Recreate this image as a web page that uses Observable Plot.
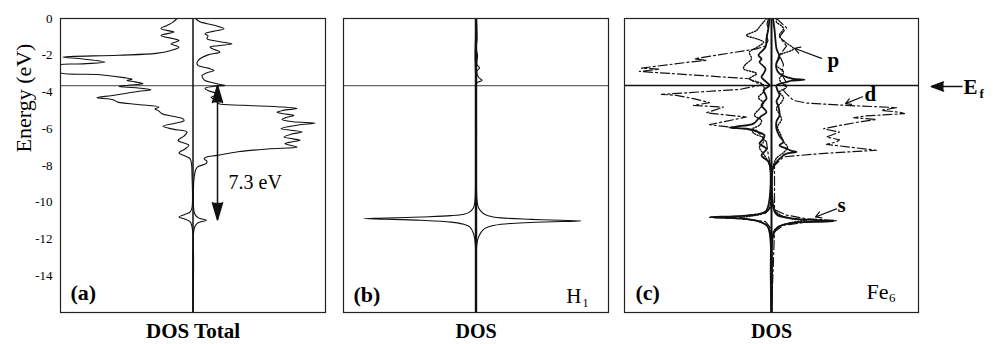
<!DOCTYPE html>
<html><head><meta charset="utf-8">
<script src="https://cdn.jsdelivr.net/npm/d3@7"></script>
<script src="https://cdn.jsdelivr.net/npm/@observablehq/plot@0.6"></script>
<style>
body{margin:0;background:#fff;}
#fig{position:relative;width:996px;height:344px;background:#fff;}
#fig svg{position:absolute;top:0;}
</style></head><body><div id="fig"></div>
<script>
// ---- data: [energy (eV), DOS (arb. units)] ----
const energyTicks = [0,-2,-4,-6,-8,-10,-12,-14];
const fermiLevel = [-3.65];
const totalUp = [[0,-1.6],[-0.2,-2.0],[-0.38,-2.6],[-0.56,-3.2],[-0.74,-1.9],[-0.92,-3.2],[-1.2,-1.4],[-1.38,-2.2],[-1.56,-1.4],[-1.74,-2.2],[-1.9,-3.7],[-2.0,-7.5],[-2.1,-13.0],[-2.2,-11.0],[-2.37,-8.8],[-2.47,-11.0],[-2.57,-13.6],[-2.9,-13.6],[-3.05,-9.5],[-3.22,-6.9],[-3.3,-6.1],[-3.37,-6.6],[-3.45,-5.8],[-3.55,-5.0],[-3.63,-6.5],[-3.7,-7.4],[-3.78,-5.5],[-3.88,-4.2],[-3.97,-5.5],[-4.08,-6.8],[-4.2,-8.2],[-4.31,-9.6],[-4.42,-8.0],[-4.55,-7.5],[-4.68,-5.5],[-4.82,-3.4],[-4.92,-3.8],[-5.0,-3.5],[-5.18,-3.1],[-5.32,-2.0],[-5.46,-1.0],[-5.56,-0.9],[-5.7,-1.8],[-5.87,-3.0],[-6.02,-2.0],[-6.18,-0.6],[-6.4,-0.9],[-6.63,-1.5],[-6.78,-0.9],[-6.9,-0.4],[-7.1,-0.8],[-7.32,-1.4],[-7.48,-0.8],[-7.63,-0.3],[-7.9,-0.15],[-8.5,-0.1],[-10.3,-0.1],[-10.52,-0.27],[-10.65,-0.77],[-10.8,-1.4],[-10.92,-0.77],[-11.07,-0.27],[-11.5,-0.05],[-16,0]];
const totalDown = [[0,0.25],[-0.18,0.7],[-0.35,2.0],[-0.56,3.1],[-0.7,2.0],[-0.83,1.2],[-0.95,1.5],[-1.1,1.4],[-1.25,2.6],[-1.38,3.9],[-1.48,2.5],[-1.56,1.7],[-1.7,2.2],[-1.83,2.7],[-1.98,1.5],[-2.19,0.7],[-2.4,0.4],[-2.55,0.5],[-2.7,1.5],[-2.83,2.1],[-2.95,1.4],[-3.1,0.9],[-3.25,1.0],[-3.37,1.2],[-3.5,2.0],[-3.58,2.6],[-3.64,3.2],[-3.7,2.0],[-3.8,1.2],[-3.95,1.6],[-4.05,2.2],[-4.18,2.2],[-4.3,1.8],[-4.4,2.2],[-4.55,2.4],[-4.64,2.6],[-4.72,5.0],[-4.82,9.0],[-4.9,10.4],[-5.0,9.0],[-5.1,8.4],[-5.18,9.0],[-5.28,10.1],[-5.36,9.5],[-5.5,8.9],[-5.62,10.0],[-5.69,12.2],[-5.8,10.5],[-5.99,8.8],[-6.08,9.8],[-6.18,10.9],[-6.3,9.8],[-6.45,9.1],[-6.55,10.0],[-6.63,10.7],[-6.72,9.8],[-6.81,9.2],[-6.9,9.7],[-7.0,10.4],[-7.1,7.5],[-7.25,4.5],[-7.45,2.4],[-7.55,1.3],[-7.63,1.1],[-7.78,1.4],[-7.9,1.3],[-8.1,0.4],[-8.5,0.15],[-10.5,0.1],[-10.7,0.25],[-10.85,0.55],[-10.98,1.35],[-11.1,0.55],[-11.3,0.2],[-11.7,0.05],[-16,0]];
const hUp = [[0,-0.05],[-1,-0.05],[-2,-0.1],[-3,-0.05],[-4,-0.05],[-6,-0.05],[-8,-0.05],[-9.9,-0.1],[-10.3,-0.25],[-10.55,-0.7],[-10.65,-1.2],[-10.73,-2.5],[-10.8,-5.5],[-10.86,-9.0],[-10.89,-11.2],[-10.92,-9.0],[-10.98,-5.5],[-11.08,-2.5],[-11.2,-1.2],[-11.35,-0.6],[-11.7,-0.25],[-12.2,-0.08],[-16,0]];
const hDown = [[0,0.05],[-1.2,0.1],[-1.6,0.0],[-2.0,0.15],[-2.5,0.1],[-2.7,0.35],[-2.85,0.1],[-3.2,0.25],[-3.37,0.6],[-3.5,0.1],[-4,0.05],[-6,0.05],[-9.9,0.1],[-10.3,0.25],[-10.6,0.7],[-10.73,1.2],[-10.85,2.5],[-10.93,5.5],[-10.98,8.5],[-11.02,10.5],[-11.05,8.5],[-11.1,5.5],[-11.2,2.5],[-11.35,1.2],[-11.5,0.7],[-11.9,0.25],[-12.3,0.08],[-16,0]];
const sUp = [[0,-0.2],[-0.5,-0.3],[-1.1,-0.5],[-1.56,-0.6],[-2.0,-1.3],[-2.2,-1.0],[-2.37,-1.2],[-2.73,-0.6],[-3.0,-0.8],[-3.19,-1.0],[-3.46,-0.5],[-3.64,-0.2],[-3.91,-0.8],[-4.15,-0.6],[-4.36,-0.5],[-4.55,-0.8],[-4.73,-1.0],[-5.1,-0.5],[-5.3,-1.0],[-5.45,-1.3],[-5.72,-1.8],[-5.88,-3.5],[-5.94,-4.2],[-6.0,-2.5],[-6.09,-1.8],[-6.36,-0.7],[-6.6,-0.9],[-6.81,-1.2],[-7.1,-0.5],[-7.45,-1.0],[-7.8,-0.3],[-8.2,-0.1],[-10.45,-0.5],[-10.63,-1.2],[-10.73,-2.5],[-10.77,-3.8],[-10.81,-6.1],[-10.86,-3.8],[-10.92,-2.5],[-11.05,-1.2],[-11.3,-0.4],[-11.8,-0.15],[-16,0]];
const sDown = [[0,0.15],[-0.6,0.3],[-1.2,0.4],[-1.65,0.5],[-2.1,0.8],[-2.4,0.5],[-2.73,0.5],[-3.0,0.8],[-3.2,1.6],[-3.28,2.2],[-3.33,3.3],[-3.38,2.0],[-3.46,1.5],[-3.64,0.5],[-3.9,0.6],[-4.18,0.8],[-4.5,0.5],[-4.8,0.7],[-5.27,0.8],[-5.6,0.5],[-6.0,0.5],[-6.4,0.8],[-6.72,1.2],[-6.9,0.8],[-7.08,1.5],[-7.2,2.0],[-7.26,2.5],[-7.35,1.5],[-7.45,1.2],[-7.8,0.5],[-8.2,0.1],[-10.5,0.3],[-10.7,0.6],[-10.89,2.2],[-10.98,4.8],[-11.03,6.2],[-11.06,4.8],[-11.12,2.2],[-11.3,0.8],[-11.5,0.4],[-12,0.1],[-16,0]];
const pUp = [[0,-0.5],[-0.2,-0.8],[-0.45,-1.2],[-0.65,-1.5],[-0.92,-2.5],[-1.1,-1.5],[-1.29,-0.8],[-1.55,-1.4],[-1.83,-2.2],[-2.2,-2.0],[-2.5,-2.6],[-2.73,-2.8],[-3.0,-1.5],[-3.28,-2.2],[-3.55,-1.0],[-3.91,-0.7],[-4.3,-1.3],[-4.6,-0.8],[-4.91,-1.2],[-5.27,-1.7],[-5.55,-1.0],[-5.8,-1.2],[-6.05,-2.0],[-6.27,-1.7],[-6.5,-0.8],[-6.72,-0.8],[-7.0,-1.2],[-7.45,-0.7],[-8,-0.2],[-10.3,-0.2],[-10.6,-0.8],[-10.75,-2.0],[-10.85,-3.2],[-10.95,-2.0],[-11.15,-0.8],[-11.5,-0.2],[-16,0]];
const pDown = [[0,0.5],[-0.2,0.5],[-0.4,1.0],[-0.56,1.2],[-0.92,0.8],[-1.3,1.4],[-1.65,2.2],[-2.0,0.8],[-2.3,0.6],[-2.55,0.5],[-2.92,1.2],[-3.28,0.8],[-3.5,1.0],[-3.73,1.5],[-4.0,0.8],[-4.3,1.2],[-4.55,1.0],[-4.9,0.5],[-5.2,0.8],[-5.5,1.0],[-5.9,0.6],[-6.3,0.9],[-6.7,1.2],[-7.0,1.6],[-7.3,1.2],[-7.6,0.5],[-8,0.2],[-10.3,0.2],[-10.7,0.9],[-10.9,2.0],[-11.0,3.5],[-11.1,2.0],[-11.3,0.9],[-11.6,0.2],[-16,0]];
const dUp = [[0,-0.3],[-0.3,-0.45],[-0.6,-0.3],[-0.9,-0.5],[-1.2,-0.35],[-1.5,-0.6],[-1.65,-1.5],[-2.19,-7.7],[-2.28,-6.5],[-2.37,-8.2],[-2.7,-13.0],[-2.76,-11.2],[-2.88,-13.2],[-3.28,-2.2],[-3.46,-1.7],[-3.6,-0.8],[-3.86,-3.2],[-4.13,-11.0],[-4.18,-9.5],[-4.36,-7.8],[-4.58,-6.2],[-4.73,-7.8],[-4.82,-4.8],[-5.13,-6.5],[-5.27,-4.2],[-5.36,-2.5],[-5.78,-6.2],[-6.0,-2.8],[-6.09,-1.5],[-6.72,-0.5],[-7.5,-0.3],[-8,-0.1],[-10.3,-0.1],[-10.6,-0.6],[-10.75,-3.0],[-10.82,-6.2],[-10.9,-3.0],[-11.05,-0.6],[-11.4,-0.1],[-16,0]];
const dDown = [[0,0.5],[-0.5,1.5],[-1.0,0.8],[-1.5,1.5],[-2.0,0.8],[-2.5,1.2],[-3.0,1.0],[-3.5,1.5],[-3.91,1.2],[-4.1,1.5],[-4.46,2.2],[-4.6,3.5],[-4.73,7.5],[-4.85,12.5],[-5.0,11.0],[-5.1,12.8],[-5.18,13.3],[-5.3,9.5],[-5.4,8.2],[-5.5,10.5],[-5.63,8.8],[-5.8,7.0],[-6.0,5.2],[-6.18,6.8],[-6.45,5.5],[-6.6,6.8],[-6.72,6.5],[-6.85,5.5],[-7.17,10.5],[-7.35,5.0],[-7.53,1.2],[-8,0.3],[-10.4,0.3],[-10.7,1.5],[-10.9,3.5],[-11.0,6.5],[-11.08,3.5],[-11.25,1.2],[-11.6,0.3],[-16,0]];
// annotations (data units)
const gapArrow = {x: 2.45, top: -3.65, bottom: -10.95, label: "7.3 eV", lx: 3.55, ly: -8.95};
const orbitalLabels = [{t:"p", x:5.6, y:-2.28},{t:"d", x:9.3, y:-4.1},{t:"s", x:6.6, y:-10.15}];
const orbitalArrows = [{x1:5.0,y1:-2.17,x2:2.3,y2:-1.62},{x1:9.1,y1:-4.26,x2:7.4,y2:-4.63},{x1:6.5,y1:-10.36,x2:4.4,y2:-10.8}];
const fermiArrow = {x1: 19.1, x2: 16.0, y: -3.7};

// ---- rendering ----
const fig = document.getElementById("fig");
const serif = "'Liberation Serif','Times New Roman',serif";
const style = {fontFamily: serif, fontSize: "12px", color: "#000", background: "transparent", overflow: "visible"};
const X = d => d[1], Y = d => d[0];
function place(svg, left) { svg.style.left = left + "px"; fig.appendChild(svg); }
const frameMark = Plot.frame({stroke: "#222", strokeWidth: 1.2});

const pa = Plot.plot({
  width: 330, height: 344, marginLeft: 60, marginRight: 5, marginTop: 18, marginBottom: 32, style,
  x: {domain: [-13.25, 13.25], axis: null},
  y: {domain: [-16, 0]},
  marks: [
    Plot.axisY(energyTicks, {tickSize: 0, tickPadding: 8, fontSize: 13, label: null, tickFormat: d => String(d)}),
    Plot.ruleY(fermiLevel, {stroke: "#666", strokeWidth: 1.3}),
    Plot.ruleX([0], {stroke: "#111", strokeWidth: 1.5}),
    Plot.line(totalUp, {x: X, y: Y, curve: "catmull-rom", stroke: "#111", strokeWidth: 1.1, clip: true}),
    Plot.line(totalDown, {x: X, y: Y, curve: "catmull-rom", stroke: "#111", strokeWidth: 1.1, clip: true}),
    Plot.link([gapArrow], {x1: "x", x2: "x", y1: "top", y2: "bottom", stroke: "#111", strokeWidth: 1.5}),
    Plot.vector([gapArrow], {x: "x", y: "top", rotate: 0, length: 17, shape: "spike", anchor: "end", r: 5, fill: "#111", stroke: "#111"}),
    Plot.vector([gapArrow], {x: "x", y: "bottom", rotate: 180, length: 17, shape: "spike", anchor: "end", r: 5, fill: "#111", stroke: "#111"}),
    Plot.text([gapArrow], {x: "lx", y: "ly", text: "label", textAnchor: "start", fontSize: 20}),
    Plot.text(["Energy (eV)"], {frameAnchor: "left", dx: -37, dy: -13, rotate: -90, fontSize: 22}),
    Plot.text(["(a)"], {frameAnchor: "bottom-left", dx: 10, dy: -13, textAnchor: "start", lineAnchor: "bottom", fontWeight: "bold", fontSize: 22}),
    Plot.text(["DOS Total"], {frameAnchor: "bottom", dy: 19, lineAnchor: "middle", fontWeight: "bold", fontSize: 21}),
    frameMark
  ]
});
place(pa, 0);

const pb = Plot.plot({
  width: 290, height: 344, marginLeft: 13, marginRight: 12, marginTop: 18, marginBottom: 32, style,
  x: {domain: [-13.25, 13.25], axis: null},
  y: {domain: [-16, 0], axis: null},
  marks: [
    Plot.ruleY(fermiLevel, {stroke: "#666", strokeWidth: 1.3}),
    Plot.ruleX([0], {stroke: "#111", strokeWidth: 2.4}),
    Plot.line(hUp, {x: X, y: Y, curve: "catmull-rom", stroke: "#111", strokeWidth: 1.1, clip: true}),
    Plot.line(hDown, {x: X, y: Y, curve: "catmull-rom", stroke: "#111", strokeWidth: 1.1, clip: true}),
    Plot.text(["(b)"], {frameAnchor: "bottom-left", dx: 10, dy: -11, textAnchor: "start", lineAnchor: "bottom", fontWeight: "bold", fontSize: 22}),
    Plot.text(["H"], {frameAnchor: "bottom-right", dx: -27, dy: -10, textAnchor: "end", lineAnchor: "bottom", fontSize: 21}),
    Plot.text(["1"], {frameAnchor: "bottom-right", dx: -20, dy: -6, textAnchor: "end", lineAnchor: "bottom", fontSize: 12}),
    Plot.text(["DOS"], {frameAnchor: "bottom", dy: 19, lineAnchor: "middle", fontWeight: "bold", fontSize: 20}),
    frameMark
  ]
});
place(pb, 330);

const pc = Plot.plot({
  width: 376, height: 344, marginLeft: 4, marginRight: 78, marginTop: 18, marginBottom: 32, style,
  x: {domain: [-14.7, 14.7], axis: null},
  y: {domain: [-16, 0], axis: null},
  marks: [
    Plot.ruleY(fermiLevel, {stroke: "#111", strokeWidth: 1.5}),
    Plot.ruleX([0], {stroke: "#111", strokeWidth: 2}),
    Plot.line(dUp, {x: X, y: Y, stroke: "#111", strokeWidth: 1.2, strokeDasharray: "9,3,2,3", clip: true}),
    Plot.line(dDown, {x: X, y: Y, stroke: "#111", strokeWidth: 1.2, strokeDasharray: "9,3,2,3", clip: true}),
    Plot.line(pUp, {x: X, y: Y, curve: "catmull-rom", stroke: "#111", strokeWidth: 1.4, strokeDasharray: "1.2,1.6", clip: true}),
    Plot.line(pDown, {x: X, y: Y, curve: "catmull-rom", stroke: "#111", strokeWidth: 1.4, strokeDasharray: "1.2,1.6", clip: true}),
    Plot.line(sUp, {x: X, y: Y, curve: "catmull-rom", stroke: "#111", strokeWidth: 1.8, clip: true}),
    Plot.line(sDown, {x: X, y: Y, curve: "catmull-rom", stroke: "#111", strokeWidth: 1.8, clip: true}),
    Plot.arrow(orbitalArrows, {x1: "x1", y1: "y1", x2: "x2", y2: "y2", stroke: "#111", strokeWidth: 1.2, headLength: 8}),
    Plot.text(orbitalLabels, {x: "x", y: "y", text: "t", textAnchor: "start", fontWeight: "bold", fontSize: 21}),
    Plot.link([fermiArrow], {x1: "x1", x2: "x2", y1: "y", y2: "y", stroke: "#111", strokeWidth: 1.5}),
    Plot.vector([fermiArrow], {x: "x2", y: "y", rotate: -90, length: 12, shape: "spike", anchor: "end", r: 4.5, fill: "#111", stroke: "#111"}),
    Plot.text([fermiArrow], {x: "x1", y: "y", text: () => "E", dx: 1, dy: 1, textAnchor: "start", fontWeight: "bold", fontSize: 21}),
    Plot.text([fermiArrow], {x: "x1", y: "y", text: () => "f", dx: 17, dy: 7, textAnchor: "start", fontWeight: "bold", fontSize: 13}),
    Plot.text(["(c)"], {frameAnchor: "bottom-left", dx: 11, dy: -13, textAnchor: "start", lineAnchor: "bottom", fontWeight: "bold", fontSize: 22}),
    Plot.text(["Fe"], {frameAnchor: "bottom-right", dx: -30, dy: -14, textAnchor: "end", lineAnchor: "bottom", fontSize: 22}),
    Plot.text(["6"], {frameAnchor: "bottom-right", dx: -23, dy: -11, textAnchor: "end", lineAnchor: "bottom", fontSize: 13}),
    Plot.text(["DOS"], {frameAnchor: "bottom", dy: 19, lineAnchor: "middle", fontWeight: "bold", fontSize: 20}),
    frameMark
  ]
});
place(pc, 620);
</script></body></html>
